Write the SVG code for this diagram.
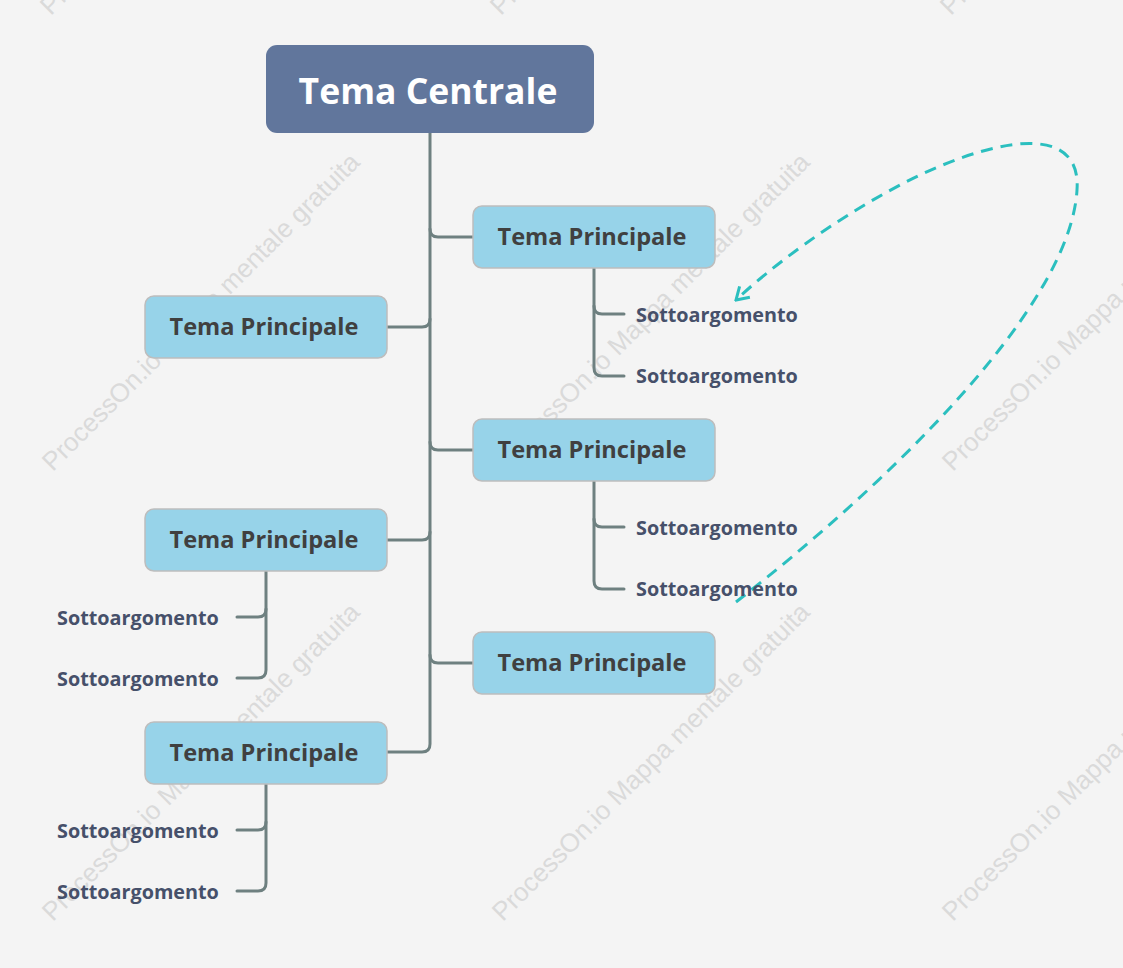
<svg xmlns="http://www.w3.org/2000/svg" width="1123" height="968" viewBox="0 0 1123 968">
<defs>
<style>
.wm{font-family:"Liberation Sans",Arial,sans-serif;font-size:26px;fill:#dadada;text-anchor:middle}
.central{fill:#61769c}
.ct{font-family:"Open Sans","Noto Sans",sans-serif;font-weight:700;font-size:35.5px;fill:#ffffff;text-anchor:middle}
.main{fill:#97d3e9;stroke:#bdbdbd;stroke-width:1.5}
.mt{font-family:"Open Sans","Noto Sans",sans-serif;font-weight:700;font-size:23.6px;fill:#404040;text-anchor:middle}
.st{font-family:"Open Sans","Noto Sans",sans-serif;font-weight:700;font-size:19.8px;fill:#46506a}
.ln{fill:none;stroke:#6e8080;stroke-width:3;stroke-linecap:round}
.rel{fill:none;stroke:#2bbfbf;stroke-width:3;stroke-dasharray:12 8}
</style>
<marker id="arr" viewBox="0 0 20 20" refX="18" refY="10" markerWidth="20" markerHeight="20" markerUnits="userSpaceOnUse" orient="auto">
<polyline points="6,2.5 18,10 6,17.5" fill="none" stroke="#2bbfbf" stroke-width="3"/>
</marker>
</defs>
<rect width="1123" height="968" fill="#f4f4f4"/>
<g id="watermarks">
<text class="wm" transform="translate(205,-138) rotate(-45)">ProcessOn.io Mappa mentale gratuita</text>
<text class="wm" transform="translate(655,-138) rotate(-45)">ProcessOn.io Mappa mentale gratuita</text>
<text class="wm" transform="translate(1105,-138) rotate(-45)">ProcessOn.io Mappa mentale gratuita</text>
<text class="wm" transform="translate(207,318) rotate(-45)">ProcessOn.io Mappa mentale gratuita</text>
<text class="wm" transform="translate(657,318) rotate(-45)">ProcessOn.io Mappa mentale gratuita</text>
<text class="wm" transform="translate(1107,318) rotate(-45)">ProcessOn.io Mappa mentale gratuita</text>
<text class="wm" transform="translate(207,768) rotate(-45)">ProcessOn.io Mappa mentale gratuita</text>
<text class="wm" transform="translate(657,768) rotate(-45)">ProcessOn.io Mappa mentale gratuita</text>
<text class="wm" transform="translate(1107,768) rotate(-45)">ProcessOn.io Mappa mentale gratuita</text>
</g>
<g id="connectors">
<path class="ln" d="M430,133 V744 Q430,752 422,752 H387"/>
<path class="ln" d="M430,229 Q430,237 438,237 H473"/>
<path class="ln" d="M430,442 Q430,450 438,450 H473"/>
<path class="ln" d="M430,655 Q430,663 438,663 H473"/>
<path class="ln" d="M430,319 Q430,327 422,327 H387"/>
<path class="ln" d="M430,532 Q430,540 422,540 H387"/>
<path class="ln" d="M594,268 V306 Q594,314 602,314 H624"/>
<path class="ln" d="M594,306 V368 Q594,376 602,376 H624"/>
<path class="ln" d="M594,481 V519 Q594,527 602,527 H624"/>
<path class="ln" d="M594,519 V581 Q594,589 602,589 H624"/>
<path class="ln" d="M266,571 V609 Q266,617 258,617 H237"/>
<path class="ln" d="M266,609 V670 Q266,678 258,678 H237"/>
<path class="ln" d="M266,784 V822 Q266,830 258,830 H237"/>
<path class="ln" d="M266,822 V883 Q266,891 258,891 H237"/>
<path class="rel" marker-end="url(#arr)" d="M736,602 C880,490 1070,310 1077,190 C1082,120 990,138 900,185 C830,222 770,268 736,300"/>
</g>
<g id="central">
<rect class="central" x="266" y="45" width="328" height="88" rx="11"/>
<text class="ct" x="428" y="104">Tema Centrale</text>
</g>
<g id="main1">
<rect class="main" x="473" y="206" width="242" height="62" rx="9"/>
<text class="mt" x="592" y="245">Tema Principale</text>
</g>
<g id="main2">
<rect class="main" x="473" y="419" width="242" height="62" rx="9"/>
<text class="mt" x="592" y="458">Tema Principale</text>
</g>
<g id="main3">
<rect class="main" x="473" y="632" width="242" height="62" rx="9"/>
<text class="mt" x="592" y="671">Tema Principale</text>
</g>
<g id="main4">
<rect class="main" x="145" y="296" width="242" height="62" rx="9"/>
<text class="mt" x="264" y="335">Tema Principale</text>
</g>
<g id="main5">
<rect class="main" x="145" y="509" width="242" height="62" rx="9"/>
<text class="mt" x="264" y="548">Tema Principale</text>
</g>
<g id="main6">
<rect class="main" x="145" y="722" width="242" height="62" rx="9"/>
<text class="mt" x="264" y="761">Tema Principale</text>
</g>
<g id="sub1"><text class="st" x="636" y="322">Sottoargomento</text></g>
<g id="sub2"><text class="st" x="636" y="383">Sottoargomento</text></g>
<g id="sub3"><text class="st" x="636" y="535">Sottoargomento</text></g>
<g id="sub4"><text class="st" x="636" y="596">Sottoargomento</text></g>
<g id="sub5"><text class="st" x="57" y="625">Sottoargomento</text></g>
<g id="sub6"><text class="st" x="57" y="686">Sottoargomento</text></g>
<g id="sub7"><text class="st" x="57" y="838">Sottoargomento</text></g>
<g id="sub8"><text class="st" x="57" y="899">Sottoargomento</text></g>
</svg>
